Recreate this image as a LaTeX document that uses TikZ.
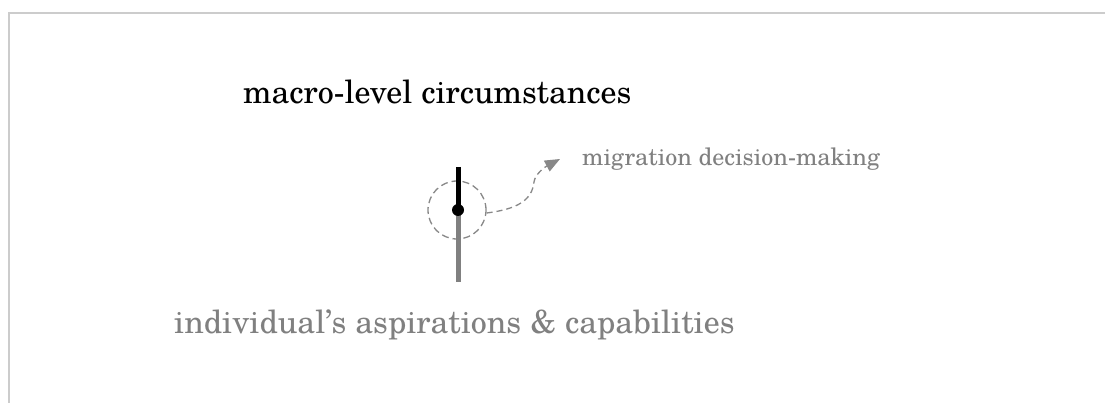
\documentclass[tikz,border=0pt]{standalone}
\usepackage{fontspec}
\setmainfont{TeX Gyre Schola}
\usetikzlibrary{arrows.meta}
\definecolor{framegray}{HTML}{CCCCCC}
\definecolor{softgray}{HTML}{808080}
\definecolor{dashgray}{HTML}{888888}
\tikzset{
  frameline/.style={draw=framegray, line width=2pt},
  bigtext/.style={anchor=base west, inner sep=0pt, font=\fontsize{32}{38}\selectfont},
  smalltext/.style={anchor=base west, inner sep=0pt, font=\fontsize{24}{29}\selectfont, text=softgray},
  axis/.style={line width=5pt},
  ringstyle/.style={circle, draw=dashgray, line width=1.3pt, dash pattern=on 7pt off 4pt, minimum size=58pt, inner sep=0pt},
  dotstyle/.style={circle, fill=black, minimum size=12pt, inner sep=0pt},
  flow/.style={draw=dashgray, line width=1.3pt, dash pattern=on 6pt off 4pt, -{Triangle[length=15pt,width=12pt]}}
}
\begin{document}
\begin{tikzpicture}[x=1pt, y=-1pt]
\useasboundingbox (0,0) rectangle (1105,403);
\draw[frameline] (9,403) -- (9,13) -- (1105,13);
\node[bigtext] (macro) at (243,104) {macro-level circumstances};
\node[bigtext, text=softgray] (indiv) at (174,333) {individual’s aspirations \& capabilities};
\node[smalltext] (mig) at (582,166) {migration decision-making};
\coordinate (top) at (458,167);
\coordinate (bottom) at (458,282);
\node[ringstyle] (ring) at (457,210) {};
\draw[axis, black] (top) -- (458,210);
\draw[axis, softgray] (458,210) -- (bottom);
\node[dotstyle] (dot) at (458,210) {};
\coordinate (tip) at (560,159);
\draw[flow] (ring.east) ++(0,3) .. controls (518,209) and (532,200) .. (534,182) .. controls (535,174) and (545,167) .. (tip);
\end{tikzpicture}
\end{document}
